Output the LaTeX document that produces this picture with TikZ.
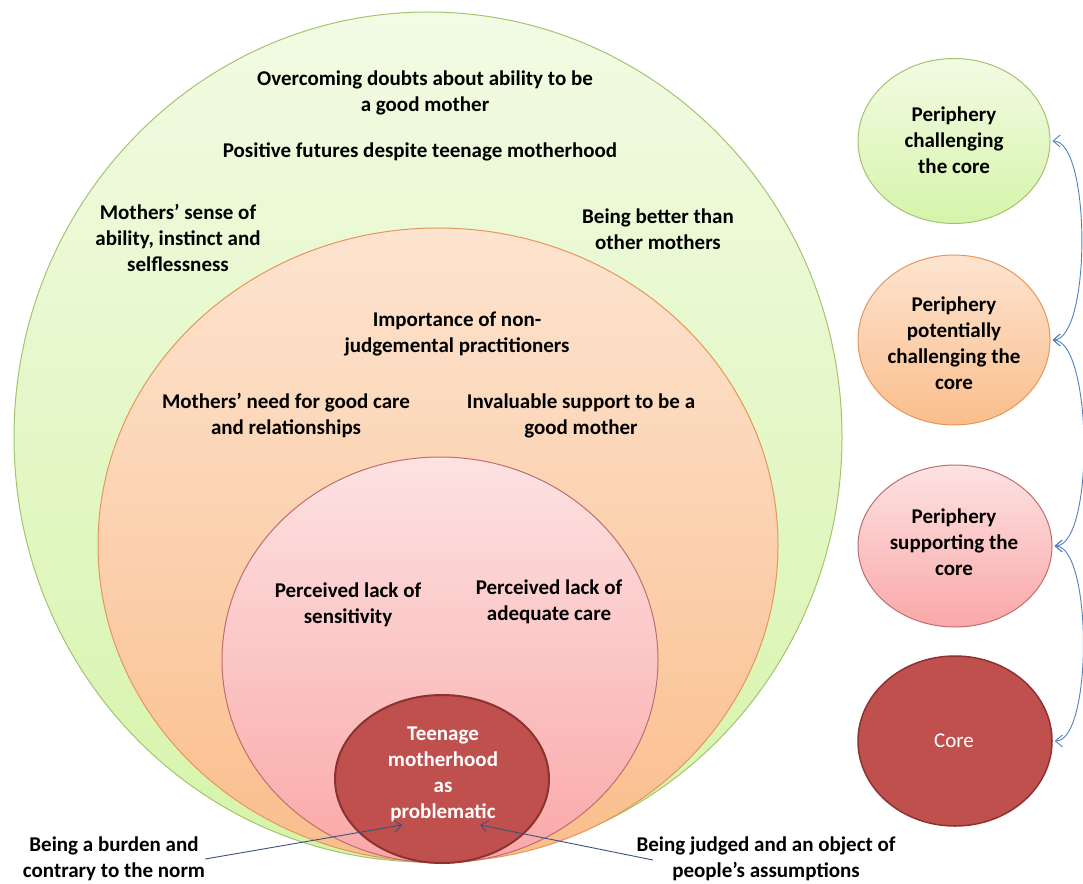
\documentclass[tikz,border=0pt]{standalone}
\usepackage{fontspec}
\setmainfont{Carlito}
\usetikzlibrary{shapes.geometric,arrows.meta}
\definecolor{gTop}{RGB}{242,251,228}
\definecolor{gBot}{RGB}{214,244,170}
\definecolor{gEdge}{RGB}{165,195,110}
\definecolor{oTop}{RGB}{253,228,208}
\definecolor{oBot}{RGB}{250,190,140}
\definecolor{oEdge}{RGB}{230,150,90}
\definecolor{pTop}{RGB}{253,226,226}
\definecolor{pBot}{RGB}{250,168,168}
\definecolor{pEdge}{RGB}{190,110,110}
\definecolor{cFill}{RGB}{192,80,77}
\definecolor{cEdge}{RGB}{140,50,48}
\definecolor{legBlue}{RGB}{79,129,189}
\definecolor{navy}{RGB}{60,80,125}
\begin{document}
\begin{tikzpicture}[x=1pt,y=-1pt,
  ring/.style={ellipse, inner sep=0pt, line width=1pt},
  greenring/.style={ring, draw=gEdge, top color=gTop, bottom color=gBot},
  orangering/.style={ring, draw=oEdge, top color=oTop, bottom color=oBot},
  pinkring/.style={ring, draw=pEdge, top color=pTop, bottom color=pBot},
  corering/.style={ring, draw=cEdge, fill=cFill, line width=2pt},
  lbl/.style={align=center, font=\bfseries\fontsize{21}{26}\selectfont, text=black, inner sep=0pt},
  wlbl/.style={lbl, text=white},
  legarrow/.style={draw=legBlue, line width=0.9pt, {Straight Barb[length=7pt,width=12pt]}-{Straight Barb[length=7pt,width=12pt]}},
  botarrow/.style={draw=navy, line width=0.9pt, -{Straight Barb[length=7pt,width=12pt]}}
]
\useasboundingbox (0,0) rectangle (1083,883);
% main rings
\node[greenring, minimum width=828, minimum height=850] (green) at (428,437) {};
\node[orangering, minimum width=680, minimum height=634] (orange) at (438,545) {};
\node[pinkring, minimum width=436, minimum height=406] (pink) at (440,660) {};
\node[corering, minimum width=214, minimum height=168] (core) at (442,779) {};
% texts
\node[lbl] (t1) at (425,93) {Overcoming doubts about ability to be\\a good mother};
\node[lbl] (t2) at (420,152) {Positive futures despite teenage motherhood};
\node[lbl] (t3) at (178,238) {Mothers’ sense of\\ability, instinct and\\selflessness};
\node[lbl] (t4) at (658,229) {Being better than\\other mothers};
\node[lbl] (t5) at (457,334) {Importance of non-\\judgemental practitioners};
\node[lbl] (t6) at (286,416) {Mothers’ need for good care\\and relationships};
\node[lbl] (t7) at (581,416) {Invaluable support to be a\\good mother};
\node[lbl] (t8) at (348,605) {Perceived lack of\\sensitivity};
\node[lbl] (t9) at (549,602) {Perceived lack of\\adequate care};
\node[wlbl] (t10) at (443,774) {Teenage\\motherhood\\as\\problematic};
\node[lbl] (burden) at (114,859) {Being a burden and\\contrary to the norm};
\node[lbl] (judged) at (766,859) {Being judged and an object of\\people’s assumptions};
% bottom arrows
\coordinate (tipL) at (402,825);
\coordinate (tipR) at (480,825);
\coordinate (jstart) at (653,860);
\draw[botarrow] (burden.east) -- (tipL);
\draw[botarrow] (jstart) -- (tipR);
% legend
\node[greenring, minimum width=192, minimum height=165] (lg) at (954,141) {};
\node[orangering, minimum width=192, minimum height=170] (lo) at (954,340) {};
\node[pinkring, minimum width=194, minimum height=162] (lp) at (955,546) {};
\node[corering, line width=1.5pt, minimum width=194, minimum height=170] (lc) at (955,741) {};
\node[lbl] (lgt) at (954,140) {Periphery\\challenging\\the core};
\node[lbl] (lot) at (954,343) {Periphery\\potentially\\challenging the\\core};
\node[lbl] (lpt) at (954,542) {Periphery\\supporting the\\core};
\node[lbl, text=white, font=\fontsize{21}{26}\selectfont] (lct) at (954,741) {Core};
\draw[legarrow] ([xshift=2pt]lg.east) to[out=0,in=0,looseness=0.5] ([xshift=2pt]lo.east);
\draw[legarrow] ([xshift=2pt]lo.east) to[out=0,in=0,looseness=0.5] ([xshift=2pt]lp.east);
\draw[legarrow] ([xshift=2pt]lp.east) to[out=0,in=0,looseness=0.5] ([xshift=2pt]lc.east);
\end{tikzpicture}
\end{document}
